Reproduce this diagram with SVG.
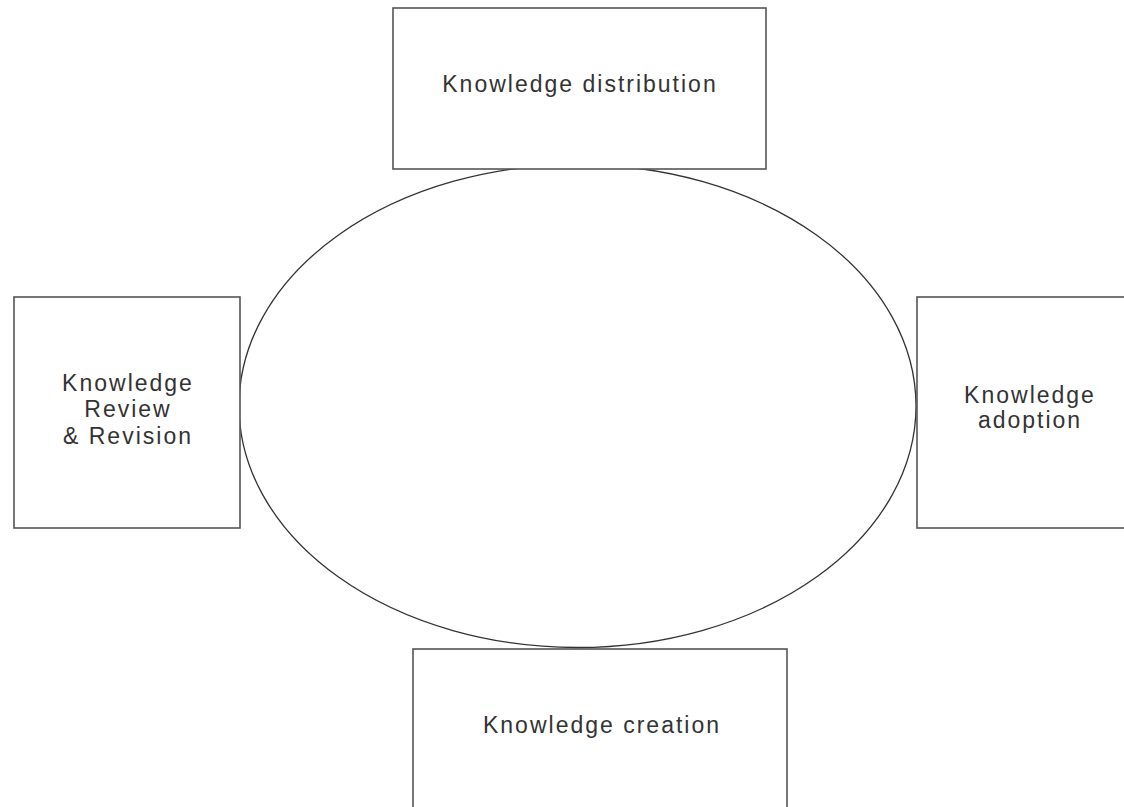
<svg xmlns="http://www.w3.org/2000/svg" width="1124" height="807" viewBox="0 0 1124 807">
<style>
.box{fill:#fff;stroke:#555;stroke-width:1.6}
.cyc{fill:none;stroke:#333;stroke-width:1.3}
.lbl{font-family:"Liberation Sans",Arial,sans-serif;font-size:23px;fill:#333;text-anchor:middle;letter-spacing:2px}
</style>
<rect width="1124" height="807" fill="#fff"/>
<g id="connectors">
<ellipse class="cyc" cx="577.5" cy="406" rx="338.5" ry="241.5"/>
</g>
<g id="distribution">
<rect class="box" x="393" y="8" width="373" height="161"/>
<text class="lbl" x="580" y="92">Knowledge distribution</text>
</g>
<g id="review">
<rect class="box" x="14" y="297" width="226" height="231"/>
<text class="lbl" x="128" y="391">Knowledge</text>
<text class="lbl" x="128" y="417">Review</text>
<text class="lbl" x="128" y="444">&amp; Revision</text>
</g>
<g id="adoption">
<rect class="box" x="917" y="297" width="220" height="231"/>
<text class="lbl" x="1030" y="403">Knowledge</text>
<text class="lbl" x="1030" y="428">adoption</text>
</g>
<g id="creation">
<rect class="box" x="413" y="649" width="374" height="170"/>
<text class="lbl" x="602" y="733">Knowledge creation</text>
</g>
</svg>
